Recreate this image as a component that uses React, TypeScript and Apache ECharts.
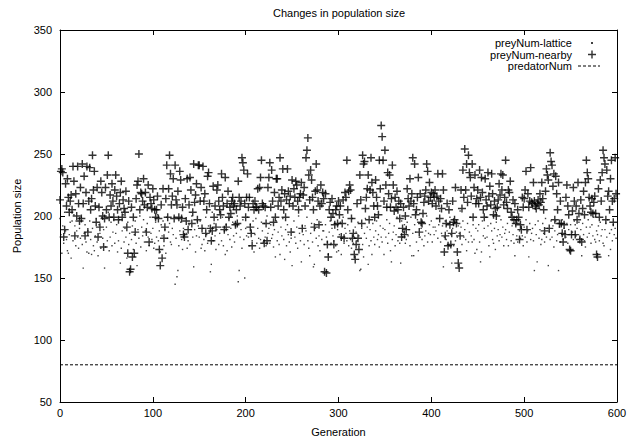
import React, { useEffect, useRef } from "react";
import * as echarts from "echarts";

// Generations 0..599 (one sample per generation)
const generations: number[] = Array.from({ length: 600 }, (_, i) => i);

// preyNum-lattice (small dots)
const preyNumLattice: number[] = [
  198, 185, 170, 192, 178, 203, 188, 181, 172, 170,
  185, 195, 166, 196, 180, 201, 192, 176, 188, 183,
  174, 190, 182, 199, 177, 158, 186, 193, 179, 171,
  188, 170, 196, 181, 169, 190, 176, 172, 184, 198,
  179, 168, 193, 186, 174, 199, 182, 189, 158, 175,
  191, 180, 203, 172, 183, 195, 176, 187, 197, 178,
  186, 193, 171, 180, 197, 162, 174, 188, 201, 179,
  190, 183, 166, 195, 177, 186, 204, 181, 192, 173,
  185, 196, 178, 160, 189, 182, 200, 175, 191, 184,
  197, 179, 188, 172, 194, 183, 176, 199, 186, 181,
  190, 174, 178, 195, 183, 201, 180, 188, 171, 193,
  184, 196, 176, 189, 170, 199, 182, 187, 194, 179,
  177, 190, 185, 199, 145, 182, 151, 156, 176, 188,
  195, 181, 173, 190, 184, 198, 186, 174, 180, 193,
  177, 189, 200, 183, 159, 189, 171, 184, 196, 192,
  183, 196, 174, 177, 190, 181, 172, 199, 185, 178,
  192, 187, 155, 161, 203, 180, 194, 184, 173, 189,
  197, 177, 186, 191, 180, 199, 176, 188, 169, 193,
  172, 185, 198, 181, 190, 175, 195, 184, 179, 192,
  186, 200, 147, 156, 183, 189, 174, 197, 181, 150,
  190, 184, 199, 183, 176, 193, 187, 180, 196, 171,
  185, 198, 178, 190, 182, 174, 181, 195, 188, 179,
  194, 183, 176, 200, 186, 190, 178, 193, 182, 185,
  175, 189, 167, 196, 180, 187, 177, 169, 191, 184,
  198, 181, 165, 189, 176, 193, 185, 179, 171, 182,
  160, 187, 196, 183, 178, 191, 174, 200, 186, 180,
  163, 192, 185, 177, 192, 188, 199, 180, 174, 168,
  186, 194, 179, 159, 161, 190, 182, 197, 176, 184,
  172, 195, 181, 188, 188, 177, 193, 183, 179, 169,
  187, 196, 178, 190, 184, 180, 194, 176, 171, 189,
  172, 185, 195, 169, 182, 199, 178, 190, 186, 180,
  193, 176, 188, 181, 174, 198, 178, 183, 191, 187,
  180, 195, 184, 156, 157, 190, 177, 167, 186, 198,
  182, 191, 161, 176, 189, 180, 169, 194, 183, 177,
  188, 196, 181, 185, 175, 192, 183, 179, 190, 169,
  189, 183, 197, 178, 186, 194, 172, 163, 181, 187,
  192, 176, 185, 199, 180, 190, 178, 162, 196, 183,
  187, 193, 178, 181, 195, 184, 189, 176, 199, 168,
  186, 168, 193, 187, 179, 197, 172, 183, 183, 190,
  181, 195, 176, 184, 188, 200, 179, 186, 193, 185,
  196, 179, 191, 185, 191, 188, 198, 182, 193, 204,
  179, 186, 192, 159, 183, 196, 181, 188, 194, 176,
  199, 185, 162, 190, 176, 195, 180, 187, 183, 192,
  186, 204, 191, 177, 196, 183, 189, 181, 172, 194,
  179, 187, 199, 184, 179, 193, 181, 170, 190, 173,
  188, 193, 179, 163, 171, 196, 184, 190, 182, 199,
  183, 192, 176, 167, 194, 188, 181, 178, 190, 173,
  195, 184, 189, 180, 185, 197, 183, 191, 176, 186,
  189, 181, 194, 176, 187, 199, 180, 192, 185, 178,
  168, 193, 184, 179, 196, 188, 182, 190, 184, 176,
  191, 183, 197, 179, 188, 167, 194, 181, 186, 190,
  180, 156, 193, 185, 163, 196, 182, 189, 177, 181,
  194, 186, 179, 198, 183, 190, 160, 187, 181, 196,
  183, 192, 175, 188, 196, 180, 185, 156, 191, 179,
  186, 197, 181, 190, 188, 183, 194, 178, 189, 185,
  193, 172, 187, 181, 196, 193, 184, 190, 179, 195,
  182, 189, 168, 194, 185, 180, 175, 191, 183, 197,
  186, 191, 178, 193, 184, 199, 181, 179, 188, 185,
  192, 180, 195, 184, 189, 178, 176, 189, 194, 183,
  197, 168, 186, 173, 189, 180, 193, 185, 190, 182,
];

// preyNum-nearby (plus markers)
const preyNumNearby: number[] = [
  213, 236, 238, 235, 183, 189, 226, 208, 230, 215,
  203, 212, 217, 205, 240, 228, 184, 218, 200, 240,
  210, 196, 223, 198, 242, 210, 232, 184, 219, 240,
  187, 212, 239, 205, 214, 249, 221, 236, 208, 195,
  223, 183, 207, 191, 228, 219, 200, 175, 198, 223,
  205, 233, 249, 199, 217, 208, 226, 212, 199, 221,
  233, 216, 205, 197, 210, 219, 228, 199, 213, 206,
  203, 220, 191, 170, 212, 155, 157, 207, 167, 199,
  170, 187, 214, 225, 228, 250, 205, 219, 218, 212,
  230, 209, 219, 187, 207, 225, 179, 215, 210, 206,
  222, 213, 205, 199, 205, 216, 198, 173, 160, 209,
  166, 222, 182, 191, 214, 241, 199, 222, 249, 234,
  209, 216, 230, 198, 241, 213, 209, 220, 199, 236,
  229, 198, 207, 185, 183, 214, 196, 230, 189, 209,
  231, 221, 194, 203, 242, 211, 217, 226, 197, 241,
  241, 212, 223, 190, 240, 212, 218, 186, 205, 232,
  235, 210, 190, 180, 188, 224, 199, 208, 191, 221,
  225, 212, 205, 201, 234, 215, 208, 189, 231, 191,
  210, 220, 199, 207, 202, 212, 215, 208, 210, 193,
  205, 194, 228, 215, 208, 212, 247, 243, 237, 210,
  199, 215, 234, 207, 215, 191, 186, 176, 210, 205,
  212, 207, 207, 222, 205, 223, 231, 245, 210, 208,
  178, 207, 194, 180, 223, 231, 243, 207, 237, 212,
  195, 219, 199, 230, 230, 208, 215, 247, 212, 221,
  238, 205, 218, 199, 213, 238, 220, 210, 216, 187,
  229, 208, 222, 215, 228, 225, 212, 205, 215, 218,
  227, 190, 217, 223, 208, 247, 253, 263, 233, 213,
  237, 229, 215, 205, 191, 220, 242, 221, 212, 193,
  208, 225, 210, 219, 214, 155, 218, 154, 177, 167,
  205, 211, 199, 214, 202, 177, 193, 205, 208, 194,
  212, 201, 208, 183, 194, 213, 182, 219, 215, 245,
  205, 220, 225, 221, 198, 182, 186, 169, 165, 177,
  210, 182, 173, 233, 213, 194, 249, 242, 244, 206,
  215, 222, 233, 197, 221, 247, 227, 219, 208, 199,
  229, 215, 208, 201, 245, 222, 273, 264, 245, 212,
  253, 225, 207, 235, 218, 233, 207, 214, 241, 225,
  204, 215, 207, 220, 205, 212, 198, 210, 183, 190,
  207, 185, 200, 189, 222, 214, 208, 230, 212, 218,
  247, 210, 242, 201, 205, 215, 231, 187, 218, 195,
  194, 202, 211, 216, 221, 242, 236, 212, 227, 215,
  219, 210, 218, 215, 221, 208, 216, 234, 212, 198,
  214, 206, 234, 221, 171, 184, 194, 210, 176, 205,
  193, 177, 186, 212, 195, 197, 223, 194, 171, 162,
  158, 184, 221, 206, 237, 215, 254, 221, 242, 211,
  249, 235, 231, 216, 242, 199, 223, 233, 210, 214,
  221, 210, 237, 215, 231, 219, 205, 199, 230, 213,
  208, 235, 216, 224, 209, 234, 218, 201, 212, 206,
  200, 207, 213, 226, 217, 234, 221, 233, 209, 215,
  245, 211, 206, 221, 219, 228, 203, 199, 213, 197,
  210, 194, 197, 205, 199, 181, 193, 189, 215, 207,
  214, 221, 236, 189, 218, 207, 212, 239, 211, 210,
  227, 212, 208, 206, 210, 213, 209, 218, 211, 227,
  214, 205, 188, 220, 238, 233, 229, 190, 251, 244,
  241, 224, 234, 197, 232, 218, 205, 227, 194, 212,
  194, 186, 179, 193, 185, 215, 225, 208, 201, 173,
  172, 185, 204, 223, 212, 185, 208, 197, 227, 202,
  181, 213, 179, 206, 220, 201, 227, 245, 235, 230,
  215, 208, 203, 214, 202, 211, 216, 202, 169, 167,
  222, 199, 229, 212, 235, 253, 247, 242, 197, 237,
  216, 220, 205, 230, 245, 212, 195, 214, 247, 218,
];

// predatorNum (dashed line), constant across the run
const predatorGenerations: number[] = [0, 600];
const predatorNum: number[] = [80, 80];

const FONT = '"Liberation Sans", Arial, Helvetica, sans-serif';
const PLUS = "path://M3,0h1.3v3h3v1.3h-3v3h-1.3v-3h-3v-1.3h3z";
const DASH_ICON =
  "path://M0,0h3v1h-3zM5,0h3v1h-3zM10,0h3v1h-3zM15,0h3v1h-3zM20,0h2v1h-2z";

const axisCommon = {
  axisLine: { show: true, onZero: false, lineStyle: { color: "#000", width: 1 } },
  axisTick: { show: true, inside: true, length: 5, lineStyle: { color: "#000", width: 1 } },
  splitLine: { show: false },
};

const legendText = (padRight: number) => ({
  fontSize: 11,
  lineHeight: 12,
  color: "#000",
  fontFamily: FONT,
  padding: [0, padRight, 0, 0],
});

export default function App() {
  const ref = useRef<HTMLDivElement>(null);

  useEffect(() => {
    document.body.style.margin = "0";
    if (!ref.current) return;
    const chart = echarts.init(ref.current, undefined, { renderer: "svg" });

    const option: any = {
      animation: false,
      backgroundColor: "#fff",
      textStyle: { fontFamily: FONT, color: "#000" },
      title: {
        text: "Changes in population size",
        left: 339,
        top: 7,
        textAlign: "center",
        padding: 0,
        textStyle: { fontSize: 11, fontWeight: "normal", color: "#000", fontFamily: FONT },
      },
      grid: { left: 60, right: 19, top: 30, bottom: 40, containLabel: false },
      legend: [
        {
          data: [{ name: "preyNum-lattice", icon: "rect" }],
          orient: "vertical",
          align: "right",
          right: 43,
          top: 37,
          padding: 0,
          itemWidth: 2,
          itemHeight: 2,
          selectedMode: false,
          textStyle: legendText(14),
        },
        {
          data: [{ name: "preyNum-nearby", icon: PLUS }],
          orient: "vertical",
          align: "right",
          right: 40,
          top: 48.5,
          padding: 0,
          itemWidth: 8,
          itemHeight: 8,
          selectedMode: false,
          textStyle: legendText(11),
        },
        {
          data: [{ name: "predatorNum", icon: DASH_ICON }],
          orient: "vertical",
          align: "right",
          right: 36,
          top: 60,
          padding: 0,
          itemWidth: 22,
          itemHeight: 1,
          selectedMode: false,
          textStyle: legendText(1),
        },
      ],
      xAxis: [
        {
          type: "value",
          position: "bottom",
          min: 0,
          max: 600,
          interval: 100,
          name: "Generation",
          nameLocation: "middle",
          nameGap: 24,
          nameTextStyle: { fontSize: 11, color: "#000", fontFamily: FONT },
          axisLabel: { fontSize: 11, color: "#000", margin: 5, fontFamily: FONT },
          ...axisCommon,
        },
        {
          type: "value",
          position: "top",
          min: 0,
          max: 600,
          interval: 100,
          axisLabel: { show: false },
          ...axisCommon,
        },
      ],
      yAxis: [
        {
          type: "value",
          position: "left",
          min: 50,
          max: 350,
          interval: 50,
          name: "Population size",
          nameLocation: "middle",
          nameGap: 38,
          nameTextStyle: { fontSize: 11, color: "#000", fontFamily: FONT },
          axisLabel: { fontSize: 11, color: "#000", margin: 8, fontFamily: FONT },
          ...axisCommon,
        },
        {
          type: "value",
          position: "right",
          min: 50,
          max: 350,
          interval: 50,
          axisLabel: { show: false },
          ...axisCommon,
        },
      ],
      series: [
        {
          name: "preyNum-lattice",
          type: "scatter",
          xAxisIndex: 0,
          yAxisIndex: 0,
          data: generations.map((g, i) => [g, preyNumLattice[i]]),
          symbol: "rect",
          symbolSize: 1.4,
          itemStyle: { color: "#000", opacity: 0.75 },
          silent: true,
        },
        {
          name: "preyNum-nearby",
          type: "scatter",
          xAxisIndex: 0,
          yAxisIndex: 0,
          data: generations.map((g, i) => [g, preyNumNearby[i]]),
          symbol: PLUS,
          symbolSize: 8,
          itemStyle: { color: "#000" },
          silent: true,
        },
        {
          name: "predatorNum",
          type: "line",
          xAxisIndex: 0,
          yAxisIndex: 0,
          data: predatorGenerations.map((g, i) => [g, predatorNum[i]]),
          symbol: "none",
          showSymbol: false,
          itemStyle: { color: "#000" },
          lineStyle: { color: "#000", width: 1, type: [3, 2] },
          silent: true,
        },
      ],
    };

    chart.setOption(option);
    return () => chart.dispose();
  }, []);

  return <div ref={ref} style={{ width: 636, height: 442 }} />;
}
